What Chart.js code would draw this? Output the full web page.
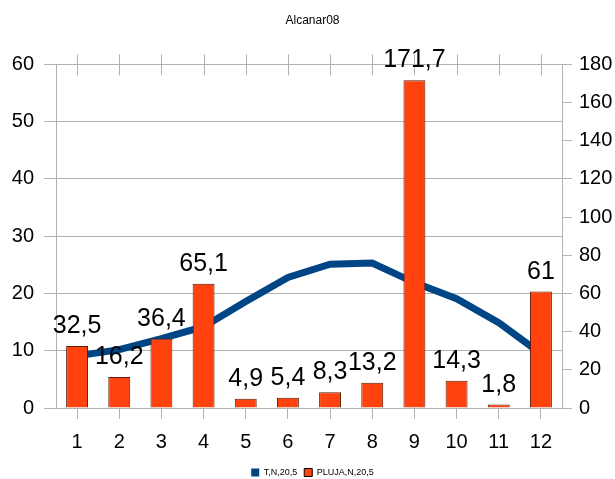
<!DOCTYPE html>
<html>
<head>
<meta charset="utf-8">
<script src="https://cdn.jsdelivr.net/npm/chart.js@4.4.0/dist/chart.umd.min.js"></script>
<style>
  html, body { margin: 0; padding: 0; background: #fff; }
  #wrap { width: 615px; height: 479px; }
</style>
</head>
<body>
<div id="wrap"><canvas id="grafico"></canvas></div>
<script>
var mesos = ['1', '2', '3', '4', '5', '6', '7', '8', '9', '10', '11', '12'];
var temperatura = [9.1, 10.2, 12.1, 14.2, 18.6, 22.8, 25.1, 25.3, 21.9, 19.1, 14.9, 9.5];
var pluja = [32.5, 16.2, 36.4, 65.1, 4.9, 5.4, 8.3, 13.2, 171.7, 14.3, 1.8, 61];
var ticsEsquerra = [0, 10, 20, 30, 40, 50, 60];
var ticsDreta = [0, 20, 40, 60, 80, 100, 120, 140, 160, 180];

var gris = '#b3b3b3';
var lletra = "'Liberation Sans', Arial, sans-serif";

// etiquetes de valor damunt les barres
var etiquetes = {
    id: 'etiquetes',
    afterDatasetsDraw: function (chart) {
        var meta = chart.getDatasetMeta(1);
        var ctx = chart.ctx;
        ctx.save();
        ctx.font = '25px ' + lletra;
        ctx.fillStyle = '#000';
        ctx.textAlign = 'center';
        ctx.textBaseline = 'alphabetic';
        meta.data.forEach(function (bar, i) {
            ctx.fillText(String(pluja[i]).replace('.', ','), bar.x, bar.y - 13);
        });
        ctx.restore();
    }
};

// marques de categoria a la vora de dalt
var marquesDalt = {
    id: 'marquesDalt',
    beforeDatasetsDraw: function (chart) {
        var x = chart.scales.x;
        var top = chart.chartArea.top;
        var ctx = chart.ctx;
        ctx.save();
        ctx.strokeStyle = gris;
        ctx.lineWidth = 1;
        mesos.forEach(function (m, i) {
            var px = Math.round(x.getPixelForValue(i)) + 0.5;
            ctx.beginPath();
            ctx.moveTo(px, top - 10);
            ctx.lineTo(px, top + 11);
            ctx.stroke();
        });
        ctx.restore();
    }
};

var ctx = document.getElementById('grafico').getContext('2d');
var grafic = new Chart(ctx, {
    type: 'bar',
    data: {
        labels: mesos,
        datasets: [{
            type: 'line',
            label: 'T,N,20,5',
            data: temperatura,
            yAxisID: 'y',
            borderColor: '#004586',
            backgroundColor: '#004586',
            borderWidth: 7,
            pointRadius: 0,
            tension: 0,
            order: 2
        }, {
            type: 'bar',
            label: 'PLUJA,N,20,5',
            data: pluja,
            yAxisID: 'y1',
            backgroundColor: '#ff420e',
            borderColor: '#5a1a08',
            borderWidth: 1,
            categoryPercentage: 1,
            barPercentage: 0.52,
            order: 1
        }]
    },
    options: {
        responsive: true,
        maintainAspectRatio: false,
        animation: false,
        layout: { padding: { left: 12, right: 2, top: 0, bottom: -8 } },
        plugins: {
            title: {
                display: true,
                text: 'Alcanar08',
                color: '#000',
                font: { family: lletra, size: 12, weight: 'normal' },
                padding: { top: 13, bottom: 37 }
            },
            legend: {
                position: 'bottom',
                labels: {
                    sort: function (a, b) { return a.datasetIndex - b.datasetIndex; },
                    boxWidth: 8,
                    boxHeight: 8,
                    padding: 7,
                    color: '#000',
                    font: { family: "'Liberation Sans Narrow', " + lletra, size: 9 },
                    generateLabels: function (chart) {
                        var items = Chart.defaults.plugins.legend.labels.generateLabels(chart);
                        items.forEach(function (it) {
                            it.lineWidth = it.datasetIndex === 0 ? 0 : 1;
                            it.strokeStyle = it.datasetIndex === 0 ? '#004586' : '#000';
                        });
                        return items;
                    }
                }
            },
            tooltip: { enabled: false }
        },
        scales: {
            x: {
                offset: true,
                afterFit: function (s) { s.height = 53; },
                grid: { display: true, drawOnChartArea: false, offset: false, color: gris, tickLength: 11 },
                border: { color: gris },
                ticks: { color: '#000', font: { family: lletra, size: 20 }, padding: 11 }
            },
            y: {
                position: 'left',
                min: 0,
                max: 60,
                afterBuildTicks: function (s) { s.ticks = ticsEsquerra.map(function (v) { return { value: v }; }); },
                afterFit: function (s) { s.width = 44; },
                grid: { color: gris, tickLength: 12 },
                border: { color: gris },
                ticks: { color: '#000', font: { family: lletra, size: 20 }, padding: 10 }
            },
            y1: {
                position: 'right',
                min: 0,
                max: 180,
                afterBuildTicks: function (s) { s.ticks = ticsDreta.map(function (v) { return { value: v }; }); },
                afterFit: function (s) { s.width = 51; },
                grid: { drawOnChartArea: false, color: gris, tickLength: 10 },
                border: { color: gris },
                ticks: { color: '#000', font: { family: lletra, size: 20 }, padding: 7 }
            }
        }
    },
    plugins: [etiquetes, marquesDalt]
});
</script>
</body>
</html>
